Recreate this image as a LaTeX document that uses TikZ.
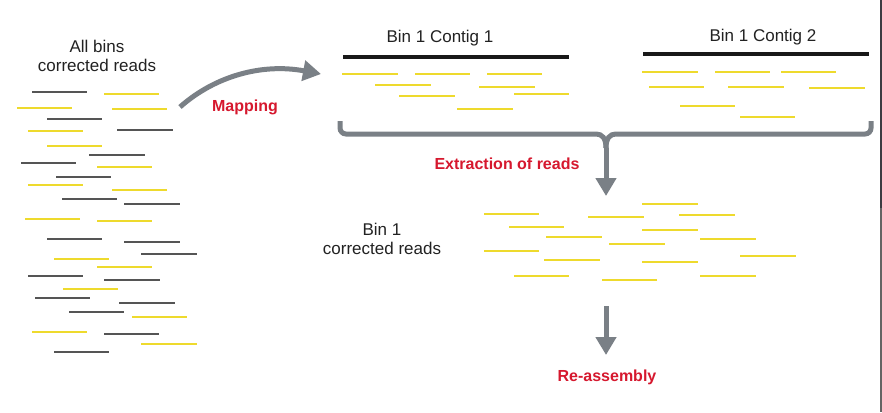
\documentclass[tikz,border=0pt]{standalone}
\usepackage{fontspec}
\setmainfont{Liberation Sans}
\usetikzlibrary{arrows.meta}
\definecolor{readY}{RGB}{238,218,45}
\definecolor{readD}{RGB}{85,85,85}
\definecolor{arrowG}{RGB}{122,128,134}
\definecolor{labRed}{RGB}{214,24,46}
\definecolor{txt}{RGB}{34,34,34}
\tikzset{
  yread/.style={draw=readY,line width=2pt},
  dread/.style={draw=readD,line width=2pt},
  contigline/.style={draw=black!90,line width=3.5pt},
  garrow/.style={draw=arrowG,line width=5pt},
  gtip/.style={-{Triangle[length=18pt,width=20pt]}},
  lbl/.style={text=txt,font=\fontsize{17}{18.5}\selectfont,align=center,inner sep=0pt},
  redlbl/.style={text=labRed,font=\bfseries\fontsize{16}{18}\selectfont,inner sep=0pt},
}
\begin{document}
\begin{tikzpicture}[x=1pt,y=-1pt]
\useasboundingbox (0,0) rectangle (882,412);
\fill[white] (0,0) rectangle (882,412);
% right border
\draw[draw={rgb,255:red,60;green,60;blue,66},line width=2pt] (881,0) -- (881,208);
\draw[draw={rgb,255:red,100;green,100;blue,100},line width=2pt] (881,208) -- (881,412);

% labels
\node[lbl] (allbins) at (97,56) {All bins\\corrected reads};
\node[lbl] (c1lbl) at (440,38) {Bin 1 Contig 1};
\node[lbl] (c2lbl) at (763,37) {Bin 1 Contig 2};
\node[lbl] (bin1) at (382,239) {Bin 1\\corrected reads};
\node[redlbl] (mapping) at (245,107) {Mapping};
\node[redlbl] (extract) at (507,164) {Extraction of reads};
\node[redlbl] (reasm) at (607,377) {Re-assembly};

% left reads
\foreach \a/\b/\y in {32/87/92,47/102/119,117/173/130,89/145/155,21/76/163,56/111/177,62/117/199,124/180/204,47/102/239,124/180/242,141/197/254,28/83/276,104/160/280,35/90/298,119/175/303,69/124/312,104/159/334,54/109/352}
  \draw[dread] (\a,\y) -- (\b,\y);
\foreach \a/\b/\y in {104/159/94,17/72/108,112/167/109,28/83/131,47/102/146,97/152/167,28/83/185,112/167/190,25/80/219,97/152/221,54/109/259,97/152/267,63/118/289,132/187/317,32/87/332,141/197/344}
  \draw[yread] (\a,\y) -- (\b,\y);

% contigs
\coordinate (c1a) at (343,57); \coordinate (c1b) at (569,57);
\coordinate (c2a) at (643,54); \coordinate (c2b) at (869,54);
\draw[contigline] (c1a) -- (c1b);
\draw[contigline] (c2a) -- (c2b);
\foreach \a/\b/\y in {342/398/74,415/470/74,487/542/74,375/431/85,479/535/87,514/569/94,399/455/96,457/513/109,
  642/698/72,715/770/72,781/836/72,649/704/87,728/784/87,809/865/88,680/735/106,740/795/117}
  \draw[yread] (\a,\y) -- (\b,\y);

% middle reads
\foreach \a/\b/\y in {642/698/204,484/539/214,588/644/217,679/735/215,509/564/227,642/698/230,546/602/237,700/756/239,609/665/244,484/539/251,740/796/256,544/600/260,642/698/262,514/569/276,602/657/280,700/756/276}
  \draw[yread] (\a,\y) -- (\b,\y);

% mapping arrow
\coordinate (mapS) at (180,107);
\coordinate (mapE) at (321,74);
\draw[garrow,gtip] (mapS) .. controls (215,76) and (262,63) .. (mapE);

% brace with extraction arrow
\coordinate (brL) at (340,121);
\coordinate (brR) at (871,121);
\coordinate (brM) at (606,148);
\coordinate (extTip) at (606,196);
\draw[garrow] (brL) [rounded corners=6pt] -- (340,134) -- (590,134) [sharp corners] .. controls (602,134) and (606,138) .. (brM);
\draw[garrow] (brR) [rounded corners=6pt] -- (871,134) -- (622,134) [sharp corners] .. controls (610,134) and (606,138) .. (brM);
\draw[garrow,gtip] (brM) -- (extTip);

% re-assembly arrow
\coordinate (raS) at (606,306);
\coordinate (raE) at (606,355);
\draw[garrow,gtip] (raS) -- (raE);
\end{tikzpicture}
\end{document}
